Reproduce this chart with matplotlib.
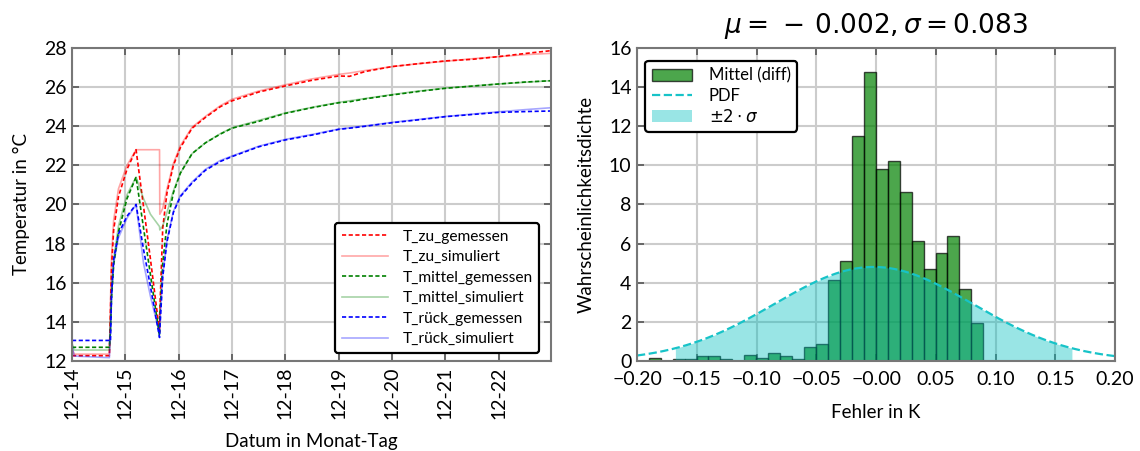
import numpy as np
import pandas as pd
import matplotlib
matplotlib.use("Agg")
import matplotlib.pyplot as plt
import matplotlib.dates as mdates

plt.rcParams['font.family'] = ['Lato', 'DejaVu Sans']
plt.rcParams['axes.unicode_minus'] = True

# --- linke Grafik: Temperaturen (Tage ab 12-14 00:00) ---
t_days = [0.00, 0.04, 0.70, 0.72, 0.74, 0.78, 0.87, 1.03, 1.20, 1.34, 1.47, 1.64, 1.645,
          1.70, 1.78, 1.90, 2.03, 2.25, 2.50, 2.78, 3.00, 3.50, 4.00, 4.50, 5.00, 5.20,
          5.50, 6.00, 6.50, 7.00, 7.50, 8.00, 8.50, 9.00]

t_zu_gem = [12.27, 12.27, 12.27, 14.5, 16.8, 18.7, 20.4, 21.8, 22.8, 19.9, 17.2, 13.5, 14.5,
            18.8, 20.6, 22.0, 22.9, 23.9, 24.45, 25.0, 25.3, 25.75, 26.06, 26.35, 26.57, 26.55,
            26.8, 27.05, 27.2, 27.34, 27.42, 27.56, 27.72, 27.87]
t_zu_sim = [12.6, 12.35, 12.35, 15.0, 17.3, 19.2, 20.8, 22.0, 22.8, 22.8, 22.8, 22.8, 19.5,
            19.8, 20.8, 22.1, 23.0, 23.95, 24.5, 25.05, 25.38, 25.8, 26.12, 26.42, 26.65, 26.72,
            26.85, 27.05, 27.2, 27.32, 27.45, 27.56, 27.66, 27.73]
t_mittel_gem = [12.7, 12.7, 12.7, 13.5, 15.2, 16.9, 18.6, 20.3, 21.4, 18.8, 16.4, 13.3, 14.3,
                17.0, 19.0, 20.6, 21.6, 22.6, 23.15, 23.6, 23.9, 24.25, 24.66, 24.95, 25.2, 25.25,
                25.4, 25.6, 25.78, 25.94, 26.05, 26.16, 26.26, 26.33]
t_mittel_sim = [12.9, 12.56, 12.56, 14.0, 15.6, 17.2, 18.9, 20.5, 21.4, 20.3, 19.5, 18.87, 18.7,
                18.9, 19.6, 20.7, 21.6, 22.6, 23.15, 23.62, 23.92, 24.3, 24.68, 24.97, 25.22, 25.3,
                25.42, 25.62, 25.8, 25.95, 26.06, 26.16, 26.25, 26.33]
t_rueck_gem = [13.05, 13.05, 13.05, 13.0, 15.3, 17.2, 18.5, 19.4, 20.0, 17.7, 15.8, 13.2, 13.6,
               16.3, 18.1, 19.6, 20.4, 21.1, 21.75, 22.2, 22.45, 22.95, 23.3, 23.55, 23.84, 23.9,
               24.0, 24.18, 24.33, 24.49, 24.6, 24.71, 24.75, 24.78]
t_rueck_sim = [12.8, 12.25, 12.17, 13.5, 15.5, 17.0, 18.3, 19.3, 20.0, 17.0, 15.3, 13.4, 13.8,
               16.4, 18.2, 19.65, 20.45, 21.15, 21.8, 22.25, 22.48, 22.98, 23.33, 23.58, 23.86, 23.92,
               24.02, 24.2, 24.35, 24.5, 24.62, 24.74, 24.85, 24.95]

start = pd.Timestamp("2020-12-14")
zeit = start + pd.to_timedelta(t_days, unit="D")

# --- rechte Grafik: Histogramm der Abweichungen ---
bin_edges = np.round(-0.1902 + 0.01 * np.arange(29), 4)
dichte = [0.15, 0.0, 0.12, 0.12, 0.28, 0.28, 0.12, 0.0, 0.29, 0.17,
          0.43, 0.26, 0.12, 0.71, 0.85, 4.12, 5.10, 11.52, 14.79, 9.79,
          10.21, 8.66, 6.11, 4.68, 5.53, 6.38, 3.69, 1.96]
mu, sigma = -0.002, 0.083

fig = plt.figure(figsize=(11.4, 4.51), dpi=100)
ax1 = fig.add_axes([0.0632, 0.1996, 0.4202, 0.694])
ax2 = fig.add_axes([0.5588, 0.1996, 0.4193, 0.694])

dash = (0, (2.5, 1.5))
ax1.plot(zeit, t_zu_gem, color='r', ls=dash, lw=1.2, label='T_zu_gemessen')
ax1.plot(zeit, t_zu_sim, color='r', lw=1.2, alpha=0.35, label='T_zu_simuliert')
ax1.plot(zeit, t_mittel_gem, color='g', ls=dash, lw=1.2, label='T_mittel_gemessen')
ax1.plot(zeit, t_mittel_sim, color='g', lw=1.2, alpha=0.35, label='T_mittel_simuliert')
ax1.plot(zeit, t_rueck_gem, color='b', ls=dash, lw=1.2, label='T_rück_gemessen')
ax1.plot(zeit, t_rueck_sim, color='b', lw=1.2, alpha=0.35, label='T_rück_simuliert')

ax1.set_xlim(start, start + pd.Timedelta(days=8.98))
ax1.set_ylim(12, 28)
ax1.set_yticks(np.arange(12, 29, 2))
ax1.xaxis.set_major_locator(mdates.DayLocator())
ax1.xaxis.set_major_formatter(mdates.DateFormatter('%m-%d'))
for lab in ax1.get_xticklabels():
    lab.set_rotation(90)
ax1.set_ylabel('Temperatur in °C', fontsize=13.5, labelpad=10)
ax1.set_xlabel('Datum in Monat-Tag', fontsize=13.5, labelpad=10)
leg1 = ax1.legend(loc='lower right', fontsize=11.2, labelspacing=0.42, handlelength=3.0,
                  handletextpad=0.9, borderpad=0.45, framealpha=1, fancybox=True,
                  bbox_to_anchor=(0.992, 0.0))
leg1.get_frame().set_edgecolor('black')
leg1.get_frame().set_linewidth(1.6)

# Histogramm
ax2.hist(bin_edges[:-1], bins=bin_edges, weights=dichte, color='g', alpha=0.7,
         edgecolor='black', linewidth=1.0, label='Mittel (diff)')
x_pdf = np.linspace(-0.2, 0.2, 400)
pdf = np.exp(-0.5 * ((x_pdf - mu) / sigma) ** 2) / (sigma * np.sqrt(2 * np.pi))
ax2.plot(x_pdf, pdf, color='#17c3c8', ls='--', lw=1.6, label='PDF')
inside = (x_pdf >= mu - 2 * sigma) & (x_pdf <= mu + 2 * sigma)
ax2.fill_between(x_pdf[inside], pdf[inside], color='c', alpha=0.4, lw=0,
                 label=r'$\pm 2 \cdot \sigma$')
ax2.set_xlim(-0.2, 0.2)
ax2.set_ylim(0, 16)
ax2.set_xticks(np.round(np.arange(-0.2, 0.21, 0.05), 2))
ax2.set_yticks(np.arange(0, 17, 2))
ax2.xaxis.set_major_formatter(plt.FuncFormatter(lambda v, p: f'{v:.2f}'.replace('-', '\u2212')))
ax2.set_title(rf'$\mu = \,-\,{abs(mu):.3f}, \sigma = {sigma:.3f}$', fontsize=19, pad=11)
ax2.set_xlabel('Fehler in K', fontsize=13.5, labelpad=12)
ax2.set_ylabel('Wahrscheinlichkeitsdichte', fontsize=13.5, labelpad=10)
leg2 = ax2.legend(loc='upper left', fontsize=12, labelspacing=0.25, handlelength=2.4,
                  handletextpad=1.0, borderpad=0.4, framealpha=1, fancybox=True,
                  bbox_to_anchor=(0.0, 0.985))
leg2.get_frame().set_edgecolor('black')
leg2.get_frame().set_linewidth(1.6)

for ax in (ax1, ax2):
    ax.grid(True, color='#cccccc', lw=1.5)
    ax.set_axisbelow(True)
    ax.tick_params(direction='in', top=True, right=True, labelsize=14, length=5,
                   width=1.2, color='#555555', pad=4)
    for s in ax.spines.values():
        s.set_color('#777777')
        s.set_linewidth(1.5)
ax2.tick_params(axis='x', pad=7)

fig.savefig('out.png', dpi=100)
